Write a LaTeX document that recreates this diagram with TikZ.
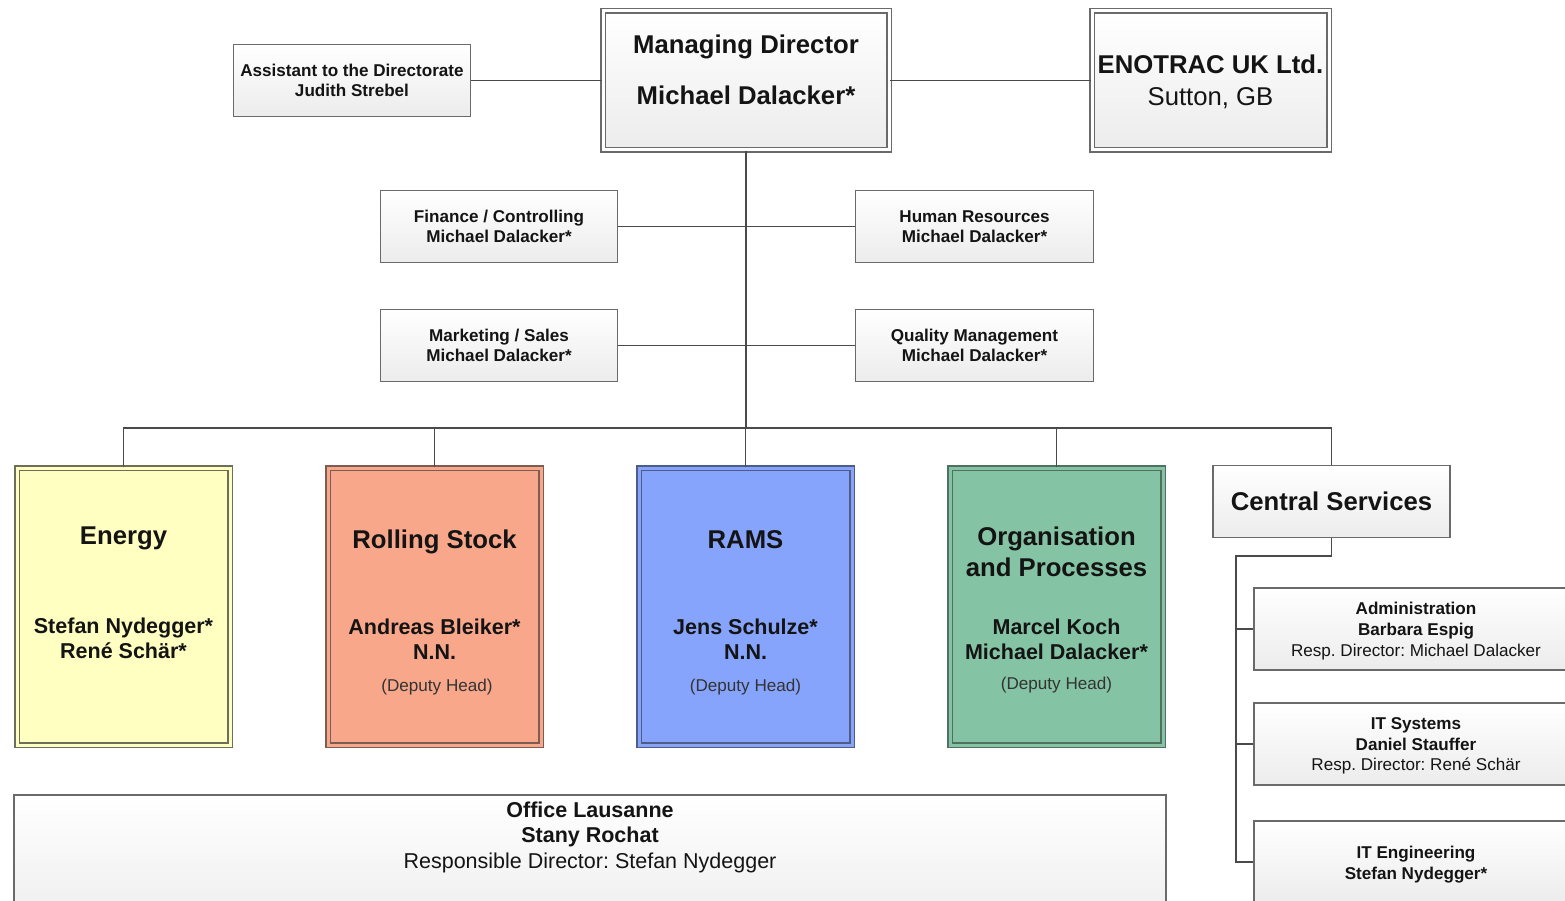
\documentclass[tikz,border=0pt]{standalone}
\usepackage{fontspec}
\setmainfont{Liberation Sans}
\frenchspacing
\definecolor{boxline}{HTML}{6A6A6A}
\definecolor{conn}{HTML}{4A4A4A}
\definecolor{textc}{HTML}{141414}
\definecolor{depc}{HTML}{333333}
\definecolor{energyfill}{HTML}{FFFFC2}
\definecolor{energyline}{HTML}{6E6E5C}
\definecolor{rsfill}{HTML}{F8A78B}
\definecolor{rsline}{HTML}{7A5E54}
\definecolor{ramsfill}{HTML}{86A4FB}
\definecolor{ramsline}{HTML}{4E5C86}
\definecolor{orgfill}{HTML}{84C3A3}
\definecolor{orgline}{HTML}{52705F}
\begin{document}
\begin{tikzpicture}[x=1pt,y=-1pt,
  box/.style={draw=boxline, line width=1.5pt, top color=white, bottom color=gray!15, inner sep=0pt, rectangle},
  dbox/.style={box, double=white, double distance=3pt},
  cbox/.style={draw=#1line, line width=1.5pt, fill=#1fill, double=#1fill, double distance=3pt, inner sep=0pt, rectangle},
  conline/.style={draw=conn, line width=1.5pt},
  tbig/.style={font=\fontsize{25.7}{30}\selectfont\bfseries, text=textc, inner sep=0pt, anchor=base, yshift=-9.2pt},
  tbigr/.style={font=\fontsize{25.7}{30}\selectfont, text=textc, inner sep=0pt, anchor=base, yshift=-9.2pt},
  tmid/.style={font=\fontsize{21.5}{25}\selectfont\bfseries, text=textc, inner sep=0pt, anchor=base, yshift=-7.7pt},
  tmidr/.style={font=\fontsize{21.5}{25}\selectfont, text=textc, inner sep=0pt, anchor=base, yshift=-7.7pt},
  tsm/.style={font=\fontsize{17.1}{20}\selectfont\bfseries, text=textc, inner sep=0pt, anchor=base, yshift=-6.1pt},
  tsmr/.style={font=\fontsize{17.1}{20}\selectfont, text=textc, inner sep=0pt, anchor=base, yshift=-6.1pt},
  tdep/.style={font=\fontsize{17.1}{20}\selectfont, text=depc, inner sep=0pt, anchor=base, yshift=-6.1pt}
]
\useasboundingbox (0,0) rectangle (1565,901);
\fill[white] (0,0) rectangle (1565,901);
\clip (0,0) rectangle (1565,901);

% top row
\node[dbox, minimum width=286pt, minimum height=139pt] (md) at (746,80.5) {};
\node[dbox, minimum width=237pt, minimum height=139pt] (uk) at (1210.5,80.5) {};
\node[box, minimum width=237pt, minimum height=72pt] (asst) at (352,80.5) {};

% staff boxes
\node[box, minimum width=237pt, minimum height=72pt] (fin) at (499,226.5) {};
\node[box, minimum width=238pt, minimum height=72pt] (hr) at (974.5,226.5) {};
\node[box, minimum width=237pt, minimum height=72pt] (mkt) at (499,345.5) {};
\node[box, minimum width=238pt, minimum height=72pt] (qm) at (974.5,345.5) {};

% divisions
\node[cbox=energy, minimum width=213pt, minimum height=277pt] (energy) at (123.5,606.5) {};
\node[cbox=rs, minimum width=213pt, minimum height=277pt] (rs) at (434.5,606.5) {};
\node[cbox=rams, minimum width=213pt, minimum height=277pt] (rams) at (745.5,606.5) {};
\node[cbox=org, minimum width=213pt, minimum height=277pt] (org) at (1056.5,606.5) {};
\node[box, minimum width=237pt, minimum height=72pt] (cs) at (1331.5,501.5) {};

% central services sub-boxes
\node[box, minimum width=324pt, minimum height=82pt] (adm) at (1416,629) {};
\node[box, minimum width=324pt, minimum height=82pt] (its) at (1416,744) {};
\node[box, minimum width=324pt, minimum height=82pt] (ite) at (1416,862) {};

% office
\node[box, minimum width=1152pt, minimum height=140pt] (office) at (590,865) {};

% connectors
\coordinate (bus) at (746,428);
\coordinate (csb) at (1236,556);
\draw[conline] (asst.east) -- (md.west);
\draw[conline] (md.east) -- (uk.west);
\draw[conline] (fin.east) -- (hr.west);
\draw[conline] (mkt.east) -- (qm.west);
\draw[conline] (md.south) -- (bus);
\draw[conline] (energy.north) |- (bus) -| (cs.north);
\draw[conline] (rs.north) -- (rs.north |- bus);
\draw[conline] (rams.north) -- (rams.north |- bus);
\draw[conline] (org.north) -- (org.north |- bus);
\draw[conline] (cs.south) |- (csb) |- (ite.west);
\draw[conline] (csb |- adm.west) -- (adm.west);
\draw[conline] (csb |- its.west) -- (its.west);

% texts
\node[tbig] (mdt1) at (746,44) {Managing Director};
\node[tbig] (mdt2) at (746,95) {Michael Dalacker*};
\node[tbig] (ukt1) at (1210.5,64) {ENOTRAC UK Ltd.};
\node[tbigr] (ukt2) at (1210.5,96) {Sutton, GB};
\node[tsm] (ast1) at (352,70) {Assistant to the Directorate};
\node[tsm] (ast2) at (352,90) {Judith Strebel};

\node[tsm] (fint1) at (499,216) {Finance / Controlling};
\node[tsm] (fint2) at (499,236) {Michael Dalacker*};
\node[tsm] (hrt1) at (974.5,216) {Human Resources};
\node[tsm] (hrt2) at (974.5,236) {Michael Dalacker*};
\node[tsm] (mkt1) at (499,335) {Marketing / Sales};
\node[tsm] (mkt2) at (499,355) {Michael Dalacker*};
\node[tsm] (qmt1) at (974.5,335) {Quality Management};
\node[tsm] (qmt2) at (974.5,355) {Michael Dalacker*};

\node[tbig] (ent1) at (123.5,535) {Energy};
\node[tmid] (ent2) at (123.5,626) {Stefan Nydegger*};
\node[tmid] (ent3) at (123.5,651) {René Schär*};

\node[tbig] (rst1) at (434.5,539) {Rolling Stock};
\node[tmid] (rst2) at (434.5,627) {Andreas Bleiker*};
\node[tmid] (rst3) at (434.5,652) {N.N.};
\node[tdep] (rst4) at (437,685) {(Deputy Head)};

\node[tbig] (rat1) at (745.5,539) {RAMS};
\node[tmid] (rat2) at (745.5,627) {Jens Schulze*};
\node[tmid] (rat3) at (745.5,652) {N.N.};
\node[tdep] (rat4) at (745.5,685) {(Deputy Head)};

\node[tbig] (ort1) at (1056.5,536) {Organisation};
\node[tbig] (ort2) at (1056.5,567) {and Processes};
\node[tmid] (ort3) at (1056.5,627) {Marcel Koch};
\node[tmid] (ort4) at (1056.5,652) {Michael Dalacker*};
\node[tdep] (ort5) at (1056.5,683) {(Deputy Head)};

\node[tbig] (cst) at (1331.5,501) {Central Services};

\node[tsm] (adt1) at (1416,608) {Administration};
\node[tsm] (adt2) at (1416,629) {Barbara Espig};
\node[tsmr] (adt3) at (1416,650) {Resp. Director: Michael Dalacker};
\node[tsm] (itst1) at (1416,723) {IT Systems};
\node[tsm] (itst2) at (1416,744) {Daniel Stauffer};
\node[tsmr] (itst3) at (1416,764) {Resp. Director: René Schär};
\node[tsm] (itet1) at (1416,852) {IT Engineering};
\node[tsm] (itet2) at (1416,873) {Stefan Nydegger*};

\node[tmid] (oft1) at (590,810) {Office Lausanne};
\node[tmid] (oft2) at (590,835) {Stany Rochat};
\node[tmidr] (oft3) at (590,861) {Responsible Director: Stefan Nydegger};
\end{tikzpicture}
\end{document}
